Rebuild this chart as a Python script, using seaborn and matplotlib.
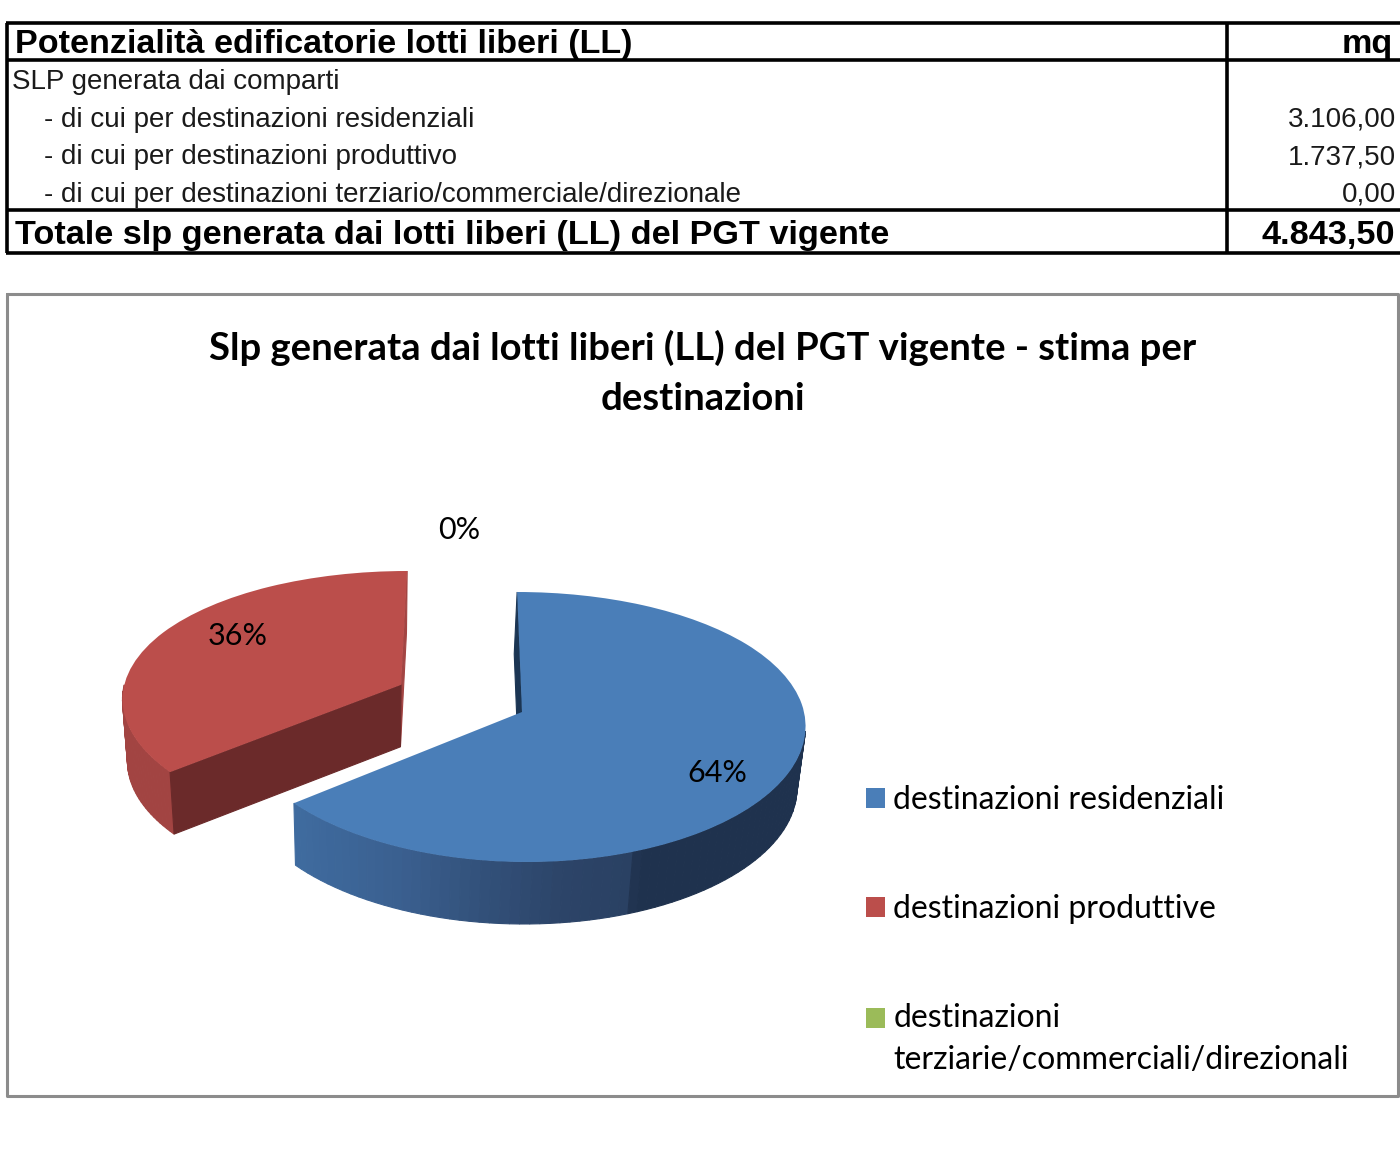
import numpy as np
import matplotlib
matplotlib.use("Agg")
import matplotlib.pyplot as plt
import matplotlib.transforms as mtransforms
import seaborn as sns

# =============================
# DATI
# =============================
TABLE_HEADER = ["Potenzialità edificatorie lotti liberi (LL)", "mq"]
ROW_LABELS = [
    "SLP generata dai comparti",
    "   - di cui per destinazioni residenziali",
    "   - di cui per destinazioni produttivo",
    "   - di cui per destinazioni terziario/commerciale/direzionale",
]
ROW_VALUES = ["", "3.106,00", "1.737,50", "0,00"]
TABLE_TOTAL = ["Totale slp generata dai lotti liberi (LL) del PGT vigente", "4.843,50"]

CHART_TITLE = "Slp generata dai lotti liberi (LL) del PGT vigente - stima per\ndestinazioni"
SLICE_LABELS = [
    "destinazioni residenziali",
    "destinazioni produttive",
    "destinazioni\nterziarie/commerciali/direzionali",
]
SLICE_VALUES = [3106.00, 1737.50, 0.00]
SLICE_EXPLODE = [0, 0.48, 0]

# =============================
# CONFIGURAZIONE
# =============================
sns.set_theme(style="white")
plt.rcParams["font.family"] = ["Liberation Sans", "DejaVu Sans"]
PALETTE = sns.color_palette(["#4a7eb8", "#bb4e4b", "#9bbb59"])

W, H = 1400, 1170
CX, CY, RX = 522, 727, 282
VANISH_X = 468   # punto di fuga della prospettiva
DEPTH = 62


class PieView(mtransforms.Transform):
    """Porta il disco della torta nella vista inclinata (z=1 e' la base)."""
    input_dims = 2
    output_dims = 2

    def __init__(self, z=0.0):
        super().__init__()
        self.z = z

    def transform_non_affine(self, xy):
        xy = np.asarray(xy, dtype=float)
        u, v = xy[:, 0], xy[:, 1]
        x = VANISH_X + (CX + RX * u - VANISH_X) * (1 - 0.09 * v)
        y = CY + 15 * v ** 2 - 135 * v - 15
        x = x + (CX - x) * 0.02 * self.z - 3 * self.z
        y = y + DEPTH * self.z
        return np.column_stack([x, y])


top_view = PieView(0.0)
base_view = PieView(1.0)


def wall(ax, p0, p1, color, zorder=0.6):
    # un quadrilatero del fianco tra due punti del disco
    pts = np.array([p0, p1])
    a = top_view.transform_non_affine(pts)
    b = base_view.transform_non_affine(pts)
    poly = np.vstack([a, b[::-1]])
    ax.fill(poly[:, 0], poly[:, 1], color=color, lw=0.8, zorder=zorder)


def rim(wedge, deg):
    r = np.radians(deg)
    return (wedge.center[0] + wedge.r * np.cos(r), wedge.center[1] + wedge.r * np.sin(r))


fig = plt.figure(figsize=(W / 100, H / 100), dpi=100)
ax = fig.add_axes([0, 0, 1, 1])

wedges, _, autotexts = ax.pie(
    SLICE_VALUES,
    explode=SLICE_EXPLODE,
    colors=PALETTE,
    startangle=90,
    counterclock=False,
    autopct="%.0f%%",
    wedgeprops={"linewidth": 0},
)
ax.set_aspect("auto")
ax.set_xlim(0, W)
ax.set_ylim(H, 0)
ax.axis("off")

for w in wedges:
    w.set_transform(top_view + ax.transData)
    w.set_zorder(2)

# =============================
# FIANCHI DELLA TORTA
# =============================
blue, red = wedges[0], wedges[1]

x_stops = [296, 400, 470, 560, 628, 634, 806]
blue_stops = np.array(sns.color_palette(["#3f6b9f", "#3a5f8f", "#33527c", "#2c4468", "#2a4163",
                                         "#1f324e", "#1f324e"]))
angles = np.linspace(blue.theta1, -8, 70)
for a0, a1 in zip(angles[:-1], angles[1:]):
    p0, p1 = rim(blue, a0), rim(blue, a1)
    px = top_view.transform_non_affine(np.array([p0]))[0, 0]
    col = [np.interp(px, x_stops, blue_stops[:, i]) for i in range(3)]
    wall(ax, p0, p1, col)
wall(ax, rim(blue, blue.theta2), blue.center, "#1b3553", zorder=0.5)

angles = np.linspace(red.theta2, -180, 30)
for a0, a1 in zip(angles[:-1], angles[1:]):
    wall(ax, rim(red, a0), rim(red, a1), "#a24442")
wall(ax, red.center, rim(red, red.theta2), "#6b2a2a", zorder=0.8)
wall(ax, red.center, rim(red, red.theta1), "#a34543", zorder=0.5)

# =============================
# ETICHETTE PERCENTUALI
# =============================
for t, pos in zip(autotexts, [(717, 773), (238, 636), (459, 530)]):
    t.set_transform(ax.transData)
    t.set_position(pos)
    t.set(family="Lato", fontsize=22, color="black", ha="center", va="center", zorder=5)

# =============================
# TABELLA
# =============================
LINE = 3.0
ax.hlines([23, 60, 210, 253], 6, W, color="black", lw=LINE * 72 / 100 * 1.2)
ax.vlines([7, 1227], 23, 253, color="black", lw=LINE * 72 / 100 * 1.2)

ax.text(15, 53, TABLE_HEADER[0], fontsize=24.6, fontweight="bold", color="black")
ax.text(1393, 53, TABLE_HEADER[1], fontsize=24.6, fontweight="bold", color="black", ha="right")
ax.text(15, 244, TABLE_TOTAL[0], fontsize=24.7, fontweight="bold", color="black")
ax.text(1395, 244, TABLE_TOTAL[1], fontsize=24.7, fontweight="bold", color="black", ha="right")

for i, (label, value) in enumerate(zip(ROW_LABELS, ROW_VALUES)):
    y = 89 + 37.6 * i
    xt = 12 if i == 0 else 44
    ax.text(xt, y, label.strip(), fontsize=20, color="#1a1a1a")
    ax.text(1396, y, value, fontsize=20, color="#1a1a1a", ha="right")

# =============================
# RIQUADRO, TITOLO, LEGENDA
# =============================
ax.plot([7, 1398, 1398, 7, 7], [294, 294, 1096, 1096, 294], color="#8c8c8c", lw=2.2, zorder=1)

ax.text(703, 373, CHART_TITLE, family="Lato", fontweight="bold", fontsize=27.5,
        color="black", ha="center", va="center", linespacing=1.56)

leg = ax.legend(
    wedges, SLICE_LABELS,
    loc="upper left",
    bbox_to_anchor=(866 / W, 1 - 785 / H),
    bbox_transform=ax.transAxes,
    frameon=False,
    prop={"family": "Lato", "size": 23},
    labelcolor="black",
    labelspacing=2.475,
    handlelength=0.6,
    handleheight=0.6,
    handletextpad=0.25,
    borderpad=0,
    borderaxespad=0,
)
# la terza voce va su due righe: il quadratino resta sulla prima
leg.get_texts()[2].set_linespacing(1.5)
third = leg.legend_handles[2]
third.set_y(third.get_y() + 16)

fig.savefig("out.png", dpi=100, facecolor="white")
